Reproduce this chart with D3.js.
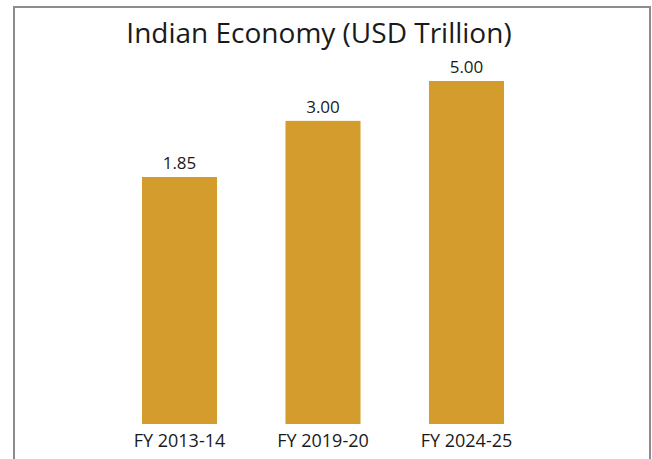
<!DOCTYPE html>
<html>
<head>
<meta charset="utf-8">
<script src="https://cdn.jsdelivr.net/npm/d3@7"></script>
<style>
  html, body { margin: 0; padding: 0; background: #fff; }
  svg { display: block; }
  text { font-family: "Open Sans", "Noto Sans", sans-serif; fill: #1a1a1a; }
</style>
</head>
<body>
<svg id="chart" width="652" height="459"></svg>
<script>
// Indian economy size, USD trillion
const categories = ["FY 2013-14", "FY 2019-20", "FY 2024-25"];
const values = [1.85, 3.00, 5.00];
const valueLabels = ["1.85", "3.00", "5.00"];
const title = "Indian Economy (USD Trillion)";

const W = 652, H = 459;
const baseline = 424;
const barColor = "#d39c2c";

const svg = d3.select("#chart");

// open frame: top, left and right edges
svg.append("path")
  .attr("d", `M14,${H} L14,7 L650,7 L650,${H}`)
  .attr("fill", "none")
  .attr("stroke", "#8c8c8c")
  .attr("stroke-width", 2);

svg.append("text")
  .attr("x", 319)
  .attr("y", 43)
  .attr("text-anchor", "middle")
  .attr("font-size", 28)
  .text(title);

const x = d3.scaleBand()
  .domain(categories)
  .range([107.75, 538.25])
  .paddingInner(0.477)
  .paddingOuter(0.2385);

// compressed value scale: bar tops spread between smallest and largest value
const y = d3.scalePow()
  .exponent(-0.8)
  .domain(d3.extent(values))
  .range([177, 81]);

const data = categories.map((c, i) => ({ c, v: values[i], label: valueLabels[i] }));

svg.append("g").selectAll("rect")
  .data(data)
  .join("rect")
  .attr("x", d => x(d.c))
  .attr("y", d => y(d.v))
  .attr("width", x.bandwidth())
  .attr("height", d => baseline - y(d.v))
  .attr("fill", barColor);

svg.append("g").selectAll("text")
  .data(data)
  .join("text")
  .attr("x", d => x(d.c) + x.bandwidth() / 2)
  .attr("y", d => y(d.v) - 8)
  .attr("text-anchor", "middle")
  .attr("font-size", 17)
  .text(d => d.label);

const xAxis = d3.axisBottom(x).tickSize(0).tickPadding(0);
const gx = svg.append("g")
  .attr("transform", `translate(0,${baseline})`)
  .call(xAxis);
gx.select(".domain").remove();
gx.selectAll("text")
  .attr("y", 23)
  .attr("dy", null)
  .attr("font-size", 18)
  .attr("font-family", "\"Open Sans\", \"Noto Sans\", sans-serif")
  .style("fill", "#1a1a1a");
</script>
</body>
</html>
